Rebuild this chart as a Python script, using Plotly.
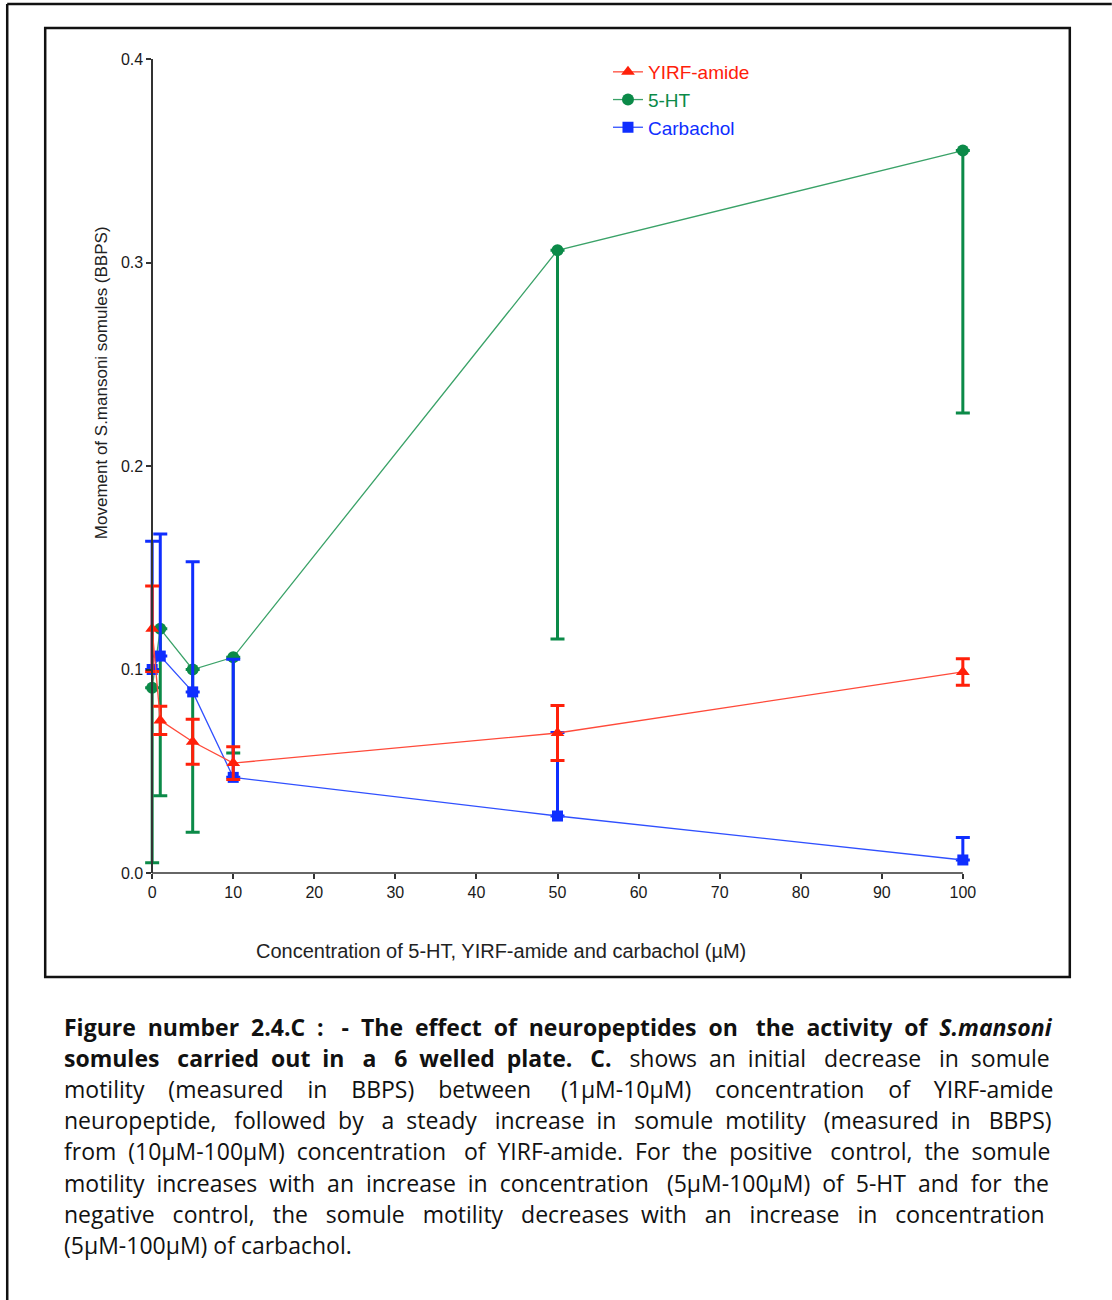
import re
import plotly.graph_objects as go

# ---------------- data ----------------
conc = [0, 1, 5, 10, 50, 100]

yirf_mean = [0.120, 0.075, 0.0645, 0.054, 0.0688, 0.0988]
yirf_err = [0.021, 0.007, 0.011, 0.008, 0.0135, 0.0065]

ht_mean = [0.091, 0.120, 0.100, 0.106, 0.306, 0.355]
ht_err_minus = [0.086, 0.082, 0.080, 0.047, 0.191, 0.129]

carb_mean = [0.100, 0.1066, 0.089, 0.047, 0.028, 0.0064]
carb_err_plus = [0.063, 0.060, 0.064, 0.058, 0.041, 0.011]

x_ticks = [0, 10, 20, 30, 40, 50, 60, 70, 80, 90, 100]
y_ticks = [0.0, 0.1, 0.2, 0.3, 0.4]

caption_lines = [
    "<b>Figure number 2.4.C : - The effect of neuropeptides on the activity of <i>S.mansoni</i></b>",
    "<b>somules carried out in a 6 welled plate. C.</b> shows an initial decrease in somule",
    "motility (measured in BBPS) between (1µM-10µM) concentration of YIRF-amide",
    "neuropeptide, followed by a steady increase in somule motility (measured in BBPS)",
    "from (10µM-100µM) concentration of YIRF-amide. For the positive control, the somule",
    "motility increases with an increase in concentration (5µM-100µM) of 5-HT and for the",
    "negative control, the somule motility decreases with an increase in concentration",
    "(5µM-100µM) of carbachol.",
]
# whether each caption line is justified to the full width (last line is not)
caption_justify = [True, True, True, True, True, True, True, False]

RED = "#ff200a"
GREEN = "#0b8a48"
BLUE = "#0f2eff"
RED_LINE = "#ff4a3a"
GREEN_LINE = "#3aa268"
BLUE_LINE = "#3050ff"

# ---------------- layout geometry ----------------
W, H = 1112, 1300
AX_X0, AX_X1 = 152, 963      # pixel positions of x=0 and x=100
AX_Y0, AX_Y1 = 873, 59       # pixel positions of y=0 and y=0.4
XL, XR = -1.5, 101.5         # x range slightly padded so edge error caps are not clipped
PPU = (AX_X1 - AX_X0) / 100.0
PL = AX_X0 + XL * PPU
PR = AX_X1 + (XR - 100) * PPU
PW = PR - PL
PH = AX_Y0 - AX_Y1


def fx(px):
    return (px - PL) / PW


def fy(py):
    return (AX_Y0 - py) / PH


# ---------------- caption justification ----------------
CAP_SIZE = 23
CAP_LEFT, CAP_RIGHT = 62, 1050
# approximate natural widths of the lines in Open Sans at 20px
cap_natural_20 = [781, 748, 731, 771, 795, 789, 759, 250]
NBSP_W = 0.26 * CAP_SIZE


def justify(line, natural20):
    natural = natural20 * CAP_SIZE / 20.0
    extra = max(0.0, (CAP_RIGHT - CAP_LEFT) - natural)
    n_extra = int(round(extra / NBSP_W))
    parts = line.split(" ")
    gaps = len(parts) - 1
    if gaps <= 0 or n_extra <= 0:
        return line
    out = parts[0]
    for i in range(gaps):
        k = round((i + 1) * n_extra / gaps) - round(i * n_extra / gaps)
        out += " " + "\u00a0" * k + parts[i + 1]
    return out


fig = go.Figure()

fig.add_trace(go.Scatter(
    x=conc, y=ht_mean, mode="lines+markers",
    name="<span style='color:%s'>5-HT</span>" % GREEN,
    legendrank=2,
    line=dict(color=GREEN_LINE, width=1.3),
    marker=dict(symbol="circle", size=12, color=GREEN),
    error_y=dict(type="data", symmetric=False, array=[0] * len(ht_err_minus),
                 arrayminus=ht_err_minus, color=GREEN, thickness=3, width=7),
    cliponaxis=False,
))
fig.add_trace(go.Scatter(
    x=conc, y=carb_mean, mode="lines+markers",
    name="<span style='color:%s'>Carbachol</span>" % BLUE,
    legendrank=3,
    line=dict(color=BLUE_LINE, width=1.3),
    marker=dict(symbol="square", size=11, color=BLUE),
    error_y=dict(type="data", symmetric=False, array=carb_err_plus,
                 arrayminus=[0] * len(carb_err_plus), color=BLUE, thickness=3, width=7),
    cliponaxis=False,
))
fig.add_trace(go.Scatter(
    x=conc, y=yirf_mean, mode="lines+markers",
    name="<span style='color:%s'>YIRF-amide</span>" % RED,
    legendrank=1,
    line=dict(color=RED_LINE, width=1.3),
    marker=dict(symbol="triangle-up", size=12, color=RED),
    error_y=dict(type="data", array=yirf_err, color=RED, thickness=3, width=7),
    cliponaxis=False,
))

axis_font = dict(family="Liberation Sans, Arial, sans-serif", size=16, color="#1a1a1a")

fig.update_xaxes(
    range=[XL, XR], tickvals=x_ticks, ticks="outside", ticklen=5, tickwidth=1.5,
    tickcolor="#333", showline=False,
    showgrid=False, zeroline=False, tickfont=axis_font,
)
fig.update_yaxes(
    range=[0, 0.4], tickvals=y_ticks, tickformat=".1f", ticks="outside", ticklen=5,
    tickwidth=1.5, tickcolor="#333", showline=True, linecolor="#333", linewidth=1.5,
    showgrid=False, zeroline=False, tickfont=axis_font,
    anchor="free", position=(0 - XL) / (XR - XL),
)

shapes = [
    # x axis line spanning 0..100
    dict(type="line", xref="x", yref="paper", x0=0, x1=100, y0=0, y1=0,
         line=dict(color="#333", width=1.5), layer="below"),
    # outer page border (top & left)
    dict(type="line", xref="paper", yref="paper", x0=fx(7), x1=fx(1112), y0=fy(4), y1=fy(4),
         line=dict(color="#111", width=2.5)),
    dict(type="line", xref="paper", yref="paper", x0=fx(7), x1=fx(7), y0=fy(4), y1=fy(1300),
         line=dict(color="#111", width=2.5)),
    # chart frame
    dict(type="rect", xref="paper", yref="paper", x0=fx(45), x1=fx(1070), y0=fy(28), y1=fy(977),
         line=dict(color="#111", width=2.5)),
]

annotations = [
    dict(text="Movement of S.mansoni somules (BBPS)", xref="paper", yref="paper",
         x=fx(102), y=fy(383), textangle=-90, showarrow=False, xanchor="center", yanchor="middle",
         font=dict(family="Liberation Sans Narrow, Arial Narrow, Liberation Sans, sans-serif",
                   size=17, color="#222")),
    dict(text="Concentration of 5-HT, YIRF-amide and carbachol (µM)", xref="paper", yref="paper",
         x=fx(501), y=fy(951), showarrow=False, xanchor="center", yanchor="middle",
         font=dict(family="Liberation Sans, Arial, sans-serif", size=20, color="#222")),
]

line_y = [1027, 1058, 1089, 1120, 1151, 1183, 1214, 1245]
for txt, ly, jus, nat in zip(caption_lines, line_y, caption_justify, cap_natural_20):
    annotations.append(dict(
        text=justify(txt, nat) if jus else txt, xref="paper", yref="paper",
        x=fx(CAP_LEFT), y=fy(ly), showarrow=False,
        xanchor="left", yanchor="middle", align="left",
        font=dict(family="Open Sans, sans-serif", size=CAP_SIZE, color="#111"),
    ))

fig.update_layout(
    width=W, height=H,
    margin=dict(l=PL, r=W - PR, t=AX_Y1, b=H - AX_Y0, pad=0),
    paper_bgcolor="white", plot_bgcolor="white",
    showlegend=True,
    legend=dict(x=fx(608), y=fy(53), xanchor="left", yanchor="top",
                font=dict(family="Liberation Sans, Arial, sans-serif", size=19),
                bgcolor="rgba(0,0,0,0)", itemwidth=30, tracegroupgap=0),
    shapes=shapes,
    annotations=annotations,
)

fig.write_html("out.html")
